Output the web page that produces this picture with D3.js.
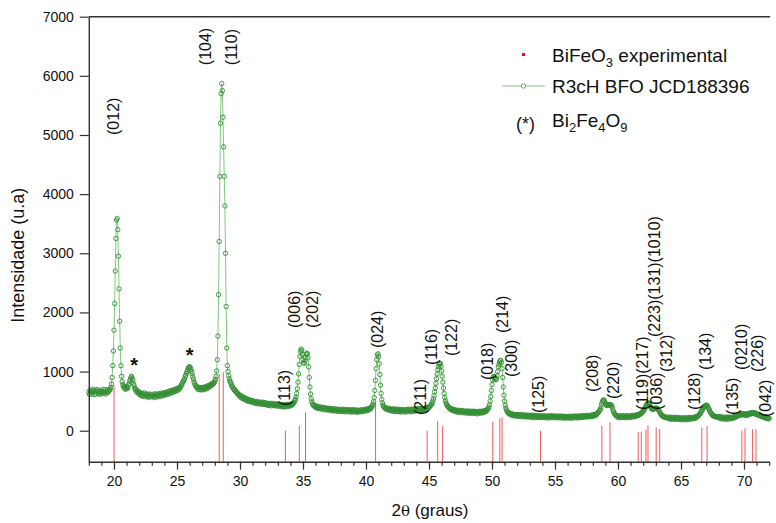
<!DOCTYPE html>
<html>
<head>
<meta charset="utf-8">
<script src="https://cdn.jsdelivr.net/npm/d3@7"></script>
<style>
  body { margin: 0; background: #fff; }
  svg { display: block; font-family: Arial, "Liberation Sans", Helvetica, sans-serif; }
</style>
</head>
<body>
<svg id="chart" width="776" height="523"></svg>
<script>
// Scan grid of the measured pattern (2θ, degrees)
const scanStart = 18;
const scanStep = 0.05;

// Measured intensity, one row per degree (18.00 … 71.95), then 72.00
const intensity = [
  650, 615, 690, 660, 620, 675, 640, 700, 655, 610, 680, 665, 625, 695, 670, 630, 660, 615, 685, 645,
  670, 625, 660, 700, 635, 655, 690, 620, 665, 640, 695, 650, 675, 690, 700, 730, 790, 900, 1100, 1350,
  1700, 2150, 2700, 3250, 3560, 3590, 3400, 2950, 2400, 1850, 1400, 1100, 920, 830, 780, 750, 720, 745, 700, 735,
  710, 745, 720, 775, 790, 840, 870, 905, 920, 880, 850, 790, 760, 720, 700, 665, 690, 645, 670, 630,
  655, 610, 640, 595, 630, 585, 625, 600, 640, 575, 615, 590, 625, 570, 610, 595, 565, 620, 580, 605,
  575, 615, 580, 600, 560, 625, 585, 610, 570, 615, 590, 630, 600, 575, 620, 635, 595, 625, 590, 640,
  605, 645, 610, 640, 625, 660, 615, 665, 630, 670, 645, 680, 640, 685, 655, 690, 660, 700, 670, 705,
  680, 720, 690, 725, 705, 745, 740, 775, 785, 820, 830, 860, 875, 915, 940, 970, 1000, 1030, 1060, 1075,
  1080, 1070, 1040, 1000, 965, 910, 875, 825, 800, 770, 760, 730, 740, 700, 735, 695, 725, 690, 730, 700,
  725, 690, 735, 700, 730, 740, 705, 750, 715, 760, 730, 765, 745, 780, 760, 790, 775, 800, 795, 815,
  840, 870, 920, 1010, 1200, 1600, 2300, 3200, 4300, 5200, 5700, 5870, 5750, 5300, 4800, 4300, 3800, 3000, 2100, 1400,
  1100, 1000, 930, 880, 840, 815, 790, 755, 745, 720, 705, 690, 685, 660, 665, 640, 635, 610, 615, 590,
  600, 565, 590, 550, 575, 540, 565, 530, 555, 520, 545, 510, 535, 495, 525, 500, 520, 485, 510, 495,
  505, 470, 500, 475, 490, 465, 495, 455, 490, 460, 480, 470, 450, 485, 455, 475, 445, 480, 450, 470,
  445, 470, 440, 465, 430, 460, 425, 455, 440, 465, 420, 450, 430, 460, 425, 445, 420, 455, 430, 440,
  415, 450, 420, 440, 410, 445, 425, 405, 440, 415, 435, 400, 440, 410, 430, 445, 410, 440, 420, 445,
  420, 450, 430, 455, 450, 475, 480, 510, 530, 570, 630, 710, 820, 960, 1120, 1260, 1340, 1380, 1360, 1290,
  1200, 1150, 1140, 1180, 1240, 1290, 1310, 1300, 1230, 1080, 900, 740, 620, 540, 490, 455, 440, 420, 430, 405,
  395, 420, 385, 410, 375, 405, 380, 395, 370, 400, 385, 360, 395, 370, 355, 390, 365, 380, 350, 375,
  355, 380, 350, 375, 360, 340, 375, 350, 335, 370, 345, 365, 340, 330, 365, 340, 360, 330, 355, 325,
  355, 330, 345, 365, 325, 350, 320, 360, 335, 350, 320, 345, 360, 325, 350, 315, 340, 355, 320, 345,
  320, 355, 330, 345, 315, 350, 330, 310, 345, 325, 335, 350, 320, 355, 325, 345, 330, 355, 340, 360,
  335, 365, 340, 370, 350, 375, 360, 385, 380, 405, 420, 450, 490, 560, 680, 850, 1050, 1200, 1280, 1300,
  1250, 1130, 950, 770, 630, 530, 470, 430, 410, 390, 395, 370, 385, 360, 380, 355, 375, 345, 370, 340,
  365, 335, 360, 330, 370, 345, 325, 365, 335, 355, 325, 365, 340, 320, 360, 335, 315, 355, 330, 350,
  325, 360, 335, 315, 355, 330, 350, 365, 325, 355, 340, 320, 365, 335, 360, 325, 365, 340, 355, 335,
  355, 370, 340, 375, 345, 365, 335, 375, 350, 380, 355, 370, 345, 380, 360, 385, 365, 390, 370, 400,
  390, 410, 415, 435, 445, 470, 495, 535, 590, 660, 720, 800, 880, 960, 1030, 1080, 1120, 1140, 1135, 1090,
  1010, 920, 820, 720, 630, 560, 510, 470, 445, 425, 410, 395, 390, 370, 380, 355, 370, 345, 365, 335,
  355, 330, 350, 320, 345, 330, 310, 345, 320, 340, 310, 335, 315, 340, 305, 335, 320, 300, 330, 315,
  300, 335, 315, 295, 330, 305, 325, 290, 330, 310, 295, 330, 305, 325, 290, 320, 310, 285, 325, 305,
  295, 330, 305, 325, 300, 330, 320, 305, 340, 325, 345, 330, 350, 360, 375, 400, 440, 500, 580, 680,
  780, 860, 910, 920, 900, 870, 860, 880, 930, 1000, 1080, 1120, 1160, 1185, 1190, 1150, 1050, 900, 740, 600,
  500, 430, 385, 350, 330, 310, 300, 290, 280, 295, 270, 285, 260, 280, 265, 250, 275, 255, 270, 245,
  275, 250, 270, 245, 265, 240, 275, 250, 235, 270, 245, 260, 235, 265, 240, 255, 230, 265, 245, 235,
  260, 235, 255, 225, 265, 240, 250, 220, 260, 235, 250, 225, 255, 230, 245, 220, 255, 235, 250, 225,
  245, 225, 255, 230, 245, 220, 250, 230, 240, 215, 250, 230, 245, 220, 240, 255, 225, 245, 220, 240,
  230, 250, 225, 245, 215, 240, 225, 250, 220, 235, 245, 215, 240, 225, 245, 210, 240, 225, 235, 215,
  240, 220, 245, 215, 235, 225, 245, 210, 240, 220, 235, 250, 225, 240, 215, 245, 225, 250, 220, 240,
  225, 250, 230, 255, 225, 245, 235, 255, 230, 250, 240, 260, 235, 255, 245, 235, 260, 240, 265, 250,
  245, 270, 250, 275, 255, 280, 270, 295, 300, 315, 330, 345, 360, 400, 450, 490, 510, 520, 515, 490,
  460, 440, 430, 425, 430, 435, 440, 442, 440, 435, 420, 390, 350, 320, 295, 280, 265, 255, 250, 245,
  225, 255, 230, 250, 220, 245, 230, 255, 225, 240, 250, 220, 245, 230, 255, 225, 245, 235, 220, 250,
  235, 255, 230, 260, 240, 250, 235, 260, 245, 265, 250, 270, 260, 275, 270, 290, 285, 300, 305, 320,
  330, 345, 365, 385, 410, 430, 450, 465, 470, 465, 445, 420, 395, 375, 365, 360, 365, 370, 375, 380,
  380, 382, 378, 370, 355, 335, 315, 295, 280, 265, 255, 245, 240, 230, 235, 225, 230, 220, 225, 215,
  225, 200, 230, 210, 195, 225, 205, 220, 195, 230, 210, 190, 220, 200, 225, 195, 220, 200, 190, 215,
  205, 185, 220, 195, 210, 185, 220, 195, 210, 185, 200, 225, 195, 210, 225, 195, 220, 200, 215, 225,
  205, 230, 210, 235, 215, 240, 235, 250, 255, 275, 285, 300, 320, 340, 360, 380, 395, 410, 420, 428,
  432, 428, 415, 395, 375, 350, 325, 305, 290, 275, 265, 255, 250, 240, 245, 235, 240, 230, 235, 225,
  240, 215, 230, 205, 235, 200, 225, 215, 200, 230, 195, 220, 205, 230, 195, 225, 205, 230, 215, 200,
  225, 210, 230, 215, 235, 220, 240, 230, 250, 245, 260, 250, 270, 260, 280, 265, 285, 270, 290, 275,
  285, 260, 280, 265, 285, 260, 290, 270, 295, 280, 300, 285, 305, 290, 310, 295, 305, 285, 300, 280,
  290, 270, 280, 260, 275, 250, 265, 245, 255, 235, 245, 225, 240, 220, 235, 210, 225, 205, 220, 200,
  210
];

// Reference pattern (R3c BiFeO3): line positions and drawn heights
const refPos = [20.0, 28.35, 28.67, 33.6, 34.71, 35.2, 40.76, 44.85, 45.69, 46.08,
                50.06, 50.62, 50.8, 53.85, 58.72, 59.36, 61.6, 61.85, 62.22, 62.38,
                63.03, 63.31, 66.65, 67.07, 69.83, 70.08, 70.68, 70.95];
const refTop = [770, 960, 990, 0, 85, 310, 475, 0, 165, 80,
                150, 210, 225, 0, 80, 145, -20, -15, 20, 90,
                55, 30, 55, 80, 0, 40, 25, 25];

// Miller-index annotations: text, 2θ, intensity at the start of the text
const hklText = ["(012)", "(104)", "(110)", "(113)", "(006)", "(202)", "(024)", "(211)", "(116)", "(122)",
                 "(018)", "(214)", "(300)", "(125)", "(208)", "(220)", "(119)(217)", "(223)(131)(1010)",
                 "(036)", "(312)", "(128)", "(134)", "(135)", "(0210)", "(226)", "(042)"];
const hklPos  = [19.92, 27.26, 29.33, 33.49, 34.29, 35.75, 40.91, 44.29, 45.16, 46.75,
                 49.6, 50.79, 51.51, 53.65, 57.94, 59.6, 61.9, 62.86,
                 63.02, 63.81, 66.03, 66.9, 69.05, 69.76, 71.03, 71.67];
const hklBase = [5000, 6180, 6180, 418, 1737, 1737, 1398, 265, 1111, 1263,
                 857, 1652, 908, 299, 654, 536, 351, 1583,
                 351, 993, 351, 1026, 265, 1026, 993, 232];

// Secondary phase markers (Bi2Fe4O9)
const starPos = [21.6, 26.0];
const starVal = [1000, 1170];

const xTicks = d3.range(20, 71, 5);
const xMinor = d3.range(18, 73, 1);
const yTicks = d3.range(0, 7001, 1000);

const svg = d3.select("#chart");
const plotL = 88.8, plotR = 769.2, plotT = 16.7, plotB = 461.7;

const x = d3.scaleLinear().domain([18, 72]).range([plotL, plotR]);
const y = d3.scaleLinear().domain([-524, 7000]).range([plotB, plotT]);

const axisColor = "#333";

// reference lines, from the bottom of the frame up
svg.append("g").selectAll("line").data(refPos).join("line")
  .attr("x1", d => x(d)).attr("x2", d => x(d))
  .attr("y1", y(-524)).attr("y2", (d, i) => y(refTop[i]))
  .attr("stroke", "#f23c3c").attr("stroke-width", 1).attr("stroke-opacity", 0.85);

// measured pattern
const pts = intensity.map((v, i) => [scanStart + i * scanStep, v]);
svg.append("path").datum(pts)
  .attr("fill", "none").attr("stroke", "#80c880").attr("stroke-width", 1)
  .attr("d", d3.line().x(d => x(d[0])).y(d => y(d[1])));
svg.append("g").selectAll("circle").data(pts).join("circle")
  .attr("cx", d => x(d[0])).attr("cy", d => y(d[1])).attr("r", 2.2)
  .attr("fill", "none").attr("stroke", "#348f34").attr("stroke-width", 0.9);

// axes
const gx = svg.append("g").attr("transform", `translate(0,${plotB})`)
  .call(d3.axisBottom(x).tickValues(xTicks).tickSize(8).tickSizeOuter(0).tickPadding(6).tickFormat(d3.format("d")));
const gxm = svg.append("g").attr("transform", `translate(0,${plotB})`)
  .call(d3.axisBottom(x).tickValues(xMinor).tickSize(4).tickFormat(""));
gxm.select(".domain").remove();
const gy = svg.append("g").attr("transform", `translate(${plotL},0)`)
  .call(d3.axisLeft(y).tickValues(yTicks).tickSize(9).tickSizeOuter(0).tickPadding(6).tickFormat(d3.format("d")));

[gx, gxm, gy].forEach(g => {
  g.selectAll(".domain").attr("stroke", axisColor).attr("stroke-width", 1.4);
  g.selectAll(".tick line").attr("stroke", axisColor).attr("stroke-width", 1.2);
  g.selectAll(".tick text").attr("fill", "#111").style("font-size", "14px")
    .style("font-family", "Arial, 'Liberation Sans', sans-serif");
});

// top frame line
svg.append("line").attr("x1", plotL).attr("x2", plotR + 1).attr("y1", plotT).attr("y2", plotT)
  .attr("stroke", axisColor).attr("stroke-width", 1.4);

// axis titles
svg.append("text").attr("transform", `translate(24,${(plotT + plotB) / 2 + 16}) rotate(-90)`)
  .attr("text-anchor", "middle").style("font-size", "18px").attr("fill", "#111")
  .text("Intensidade (u.a)");
const xt = svg.append("text").attr("x", (plotL + plotR) / 2 + 1).attr("y", 516)
  .attr("text-anchor", "middle").style("font-size", "17px").attr("fill", "#111");
xt.append("tspan").text("2");
xt.append("tspan").style("font-family", "'DejaVu Serif', serif").style("font-size", "15px").text("θ");
xt.append("tspan").text(" (graus)");

// Miller indices
svg.append("g").selectAll("text").data(hklText).join("text")
  .attr("transform", (d, i) => `translate(${x(hklPos[i])},${y(hklBase[i])}) rotate(-90)`)
  .attr("dy", "0.36em").style("font-size", "16px").attr("fill", "#111")
  .text(d => d);

// asterisks
svg.append("g").selectAll("text").data(starPos).join("text")
  .attr("x", d => x(d)).attr("y", (d, i) => y(starVal[i]))
  .attr("text-anchor", "middle").style("font-size", "20px").style("font-weight", "bold")
  .attr("fill", "#111").text("*");

// legend
const lg = svg.append("g");
lg.append("rect").attr("x", 522).attr("y", 53).attr("width", 3).attr("height", 3).attr("fill", "#f00");
const t1 = lg.append("text").attr("x", 552).attr("y", 62).style("font-size", "19px").attr("fill", "#111");
t1.append("tspan").text("BiFeO");
t1.append("tspan").attr("dy", 5).style("font-size", "13px").text("3");
t1.append("tspan").attr("dy", -5).text(" experimental");

lg.append("line").attr("x1", 502).attr("x2", 545).attr("y1", 86).attr("y2", 86)
  .attr("stroke", "#80c880").attr("stroke-width", 1);
lg.append("circle").attr("cx", 523.5).attr("cy", 86).attr("r", 2.2)
  .attr("fill", "#fff").attr("stroke", "#3a963a").attr("stroke-width", 0.8);
lg.append("text").attr("x", 552).attr("y", 92.5).style("font-size", "19px").attr("fill", "#111")
  .text("R3cH BFO JCD188396");

lg.append("text").attr("x", 516).attr("y", 130).style("font-size", "18px").attr("fill", "#111").text("(*)");
const t3 = lg.append("text").attr("x", 552).attr("y", 127).style("font-size", "19px").attr("fill", "#111");
t3.append("tspan").text("Bi");
t3.append("tspan").attr("dy", 5).style("font-size", "13px").text("2");
t3.append("tspan").attr("dy", -5).text("Fe");
t3.append("tspan").attr("dy", 5).style("font-size", "13px").text("4");
t3.append("tspan").attr("dy", -5).text("O");
t3.append("tspan").attr("dy", 5).style("font-size", "13px").text("9");
</script>
</body>
</html>
